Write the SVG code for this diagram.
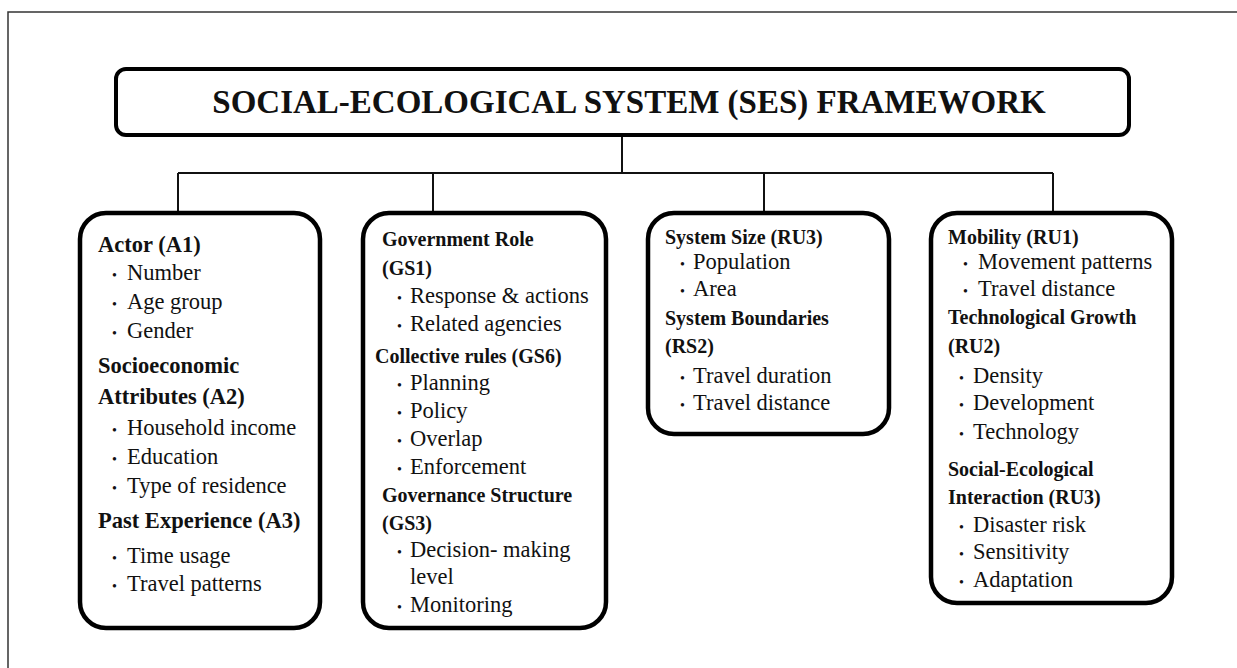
<svg xmlns="http://www.w3.org/2000/svg" width="1237" height="668" viewBox="0 0 1237 668">
  <style>
    .frame { fill: none; stroke: #333; stroke-width: 1.5; }
    .box { fill: #fff; stroke: #000; stroke-width: 4.5; }
    .title-box { fill: #fff; stroke: #000; stroke-width: 4; }
    .wire { fill: none; stroke: #111; stroke-width: 2; }
    text { font-family: "Liberation Serif", "Times New Roman", serif; fill: #111; }
    .title { font-size: 33px; font-weight: bold; }
    .h { font-size: 20px; font-weight: bold; }
    .h.lg { font-size: 22.5px; }
    .i { font-size: 22.5px; }
    .b { font-size: 14px; }
  </style>

  <rect width="1237" height="668" fill="#fff"/>
  <!-- page frame (open to the right and bottom) -->
  <rect class="frame" x="8" y="12" width="1260" height="700"/>

  <!-- tree connectors -->
  <g id="connectors">
    <path class="wire" d="M622 135 V173"/>
    <path class="wire" d="M178 173 H1053"/>
    <path class="wire" d="M178 173 V213"/>
    <path class="wire" d="M433 173 V213"/>
    <path class="wire" d="M764 173 V213"/>
    <path class="wire" d="M1053 173 V213"/>
  </g>

  <g id="title">
    <rect class="title-box" x="116" y="69" width="1013" height="66" rx="10"/>
    <text class="title" x="629" y="113" text-anchor="middle">SOCIAL-ECOLOGICAL SYSTEM (SES) FRAMEWORK</text>
  </g>

  <!-- Actors -->
  <g id="actors">
    <rect class="box" x="80" y="213" width="240" height="415" rx="26"/>
    <text class="h lg" x="98" y="252">Actor (A1)</text>
    <text class="i" y="280"><tspan class="b" x="112">•</tspan><tspan x="127">Number</tspan></text>
    <text class="i" y="309"><tspan class="b" x="112">•</tspan><tspan x="127">Age group</tspan></text>
    <text class="i" y="338"><tspan class="b" x="112">•</tspan><tspan x="127">Gender</tspan></text>
    <text class="h lg" x="98" y="373">Socioeconomic</text>
    <text class="h lg" x="98" y="404">Attributes (A2)</text>
    <text class="i" y="435"><tspan class="b" x="112">•</tspan><tspan x="127">Household income</tspan></text>
    <text class="i" y="464"><tspan class="b" x="112">•</tspan><tspan x="127">Education</tspan></text>
    <text class="i" y="493"><tspan class="b" x="112">•</tspan><tspan x="127">Type of residence</tspan></text>
    <text class="h lg" x="98" y="528">Past Experience (A3)</text>
    <text class="i" y="563"><tspan class="b" x="112">•</tspan><tspan x="127">Time usage</tspan></text>
    <text class="i" y="591"><tspan class="b" x="112">•</tspan><tspan x="127">Travel patterns</tspan></text>
  </g>

  <!-- Governance -->
  <g id="governance">
    <rect class="box" x="363" y="213" width="243" height="415" rx="26"/>
    <text class="h" x="382" y="246">Government Role</text>
    <text class="h" x="382" y="275">(GS1)</text>
    <text class="i" y="303"><tspan class="b" x="397">•</tspan><tspan x="410">Response &amp; actions</tspan></text>
    <text class="i" y="331"><tspan class="b" x="397">•</tspan><tspan x="410">Related agencies</tspan></text>
    <text class="h" x="375" y="363">Collective rules  (GS6)</text>
    <text class="i" y="390"><tspan class="b" x="397">•</tspan><tspan x="410">Planning</tspan></text>
    <text class="i" y="418"><tspan class="b" x="397">•</tspan><tspan x="410">Policy</tspan></text>
    <text class="i" y="446"><tspan class="b" x="397">•</tspan><tspan x="410">Overlap</tspan></text>
    <text class="i" y="474"><tspan class="b" x="397">•</tspan><tspan x="410">Enforcement</tspan></text>
    <text class="h" x="382" y="502">Governance Structure</text>
    <text class="h" x="382" y="530">(GS3)</text>
    <text class="i" y="557"><tspan class="b" x="397">•</tspan><tspan x="410">Decision- making</tspan></text>
    <text class="i" x="410" y="584">level</text>
    <text class="i" y="612"><tspan class="b" x="397">•</tspan><tspan x="410">Monitoring</tspan></text>
  </g>

  <!-- Resource system -->
  <g id="resource-system">
    <rect class="box" x="648" y="213" width="241" height="221" rx="26"/>
    <text class="h" x="665" y="244">System Size (RU3)</text>
    <text class="i" y="269"><tspan class="b" x="680">•</tspan><tspan x="693">Population</tspan></text>
    <text class="i" y="296"><tspan class="b" x="680">•</tspan><tspan x="693">Area</tspan></text>
    <text class="h" x="665" y="325">System Boundaries</text>
    <text class="h" x="665" y="353">(RS2)</text>
    <text class="i" y="383"><tspan class="b" x="680">•</tspan><tspan x="693">Travel duration</tspan></text>
    <text class="i" y="410"><tspan class="b" x="680">•</tspan><tspan x="693">Travel distance</tspan></text>
  </g>

  <!-- Resource units -->
  <g id="resource-units">
    <rect class="box" x="931" y="213" width="241" height="390" rx="26"/>
    <text class="h" x="948" y="244">Mobility (RU1)</text>
    <text class="i" y="269"><tspan class="b" x="963">•</tspan><tspan x="978">Movement patterns</tspan></text>
    <text class="i" y="296"><tspan class="b" x="963">•</tspan><tspan x="978">Travel distance</tspan></text>
    <text class="h" x="948" y="324">Technological Growth</text>
    <text class="h" x="948" y="353">(RU2)</text>
    <text class="i" y="383"><tspan class="b" x="959">•</tspan><tspan x="973">Density</tspan></text>
    <text class="i" y="410"><tspan class="b" x="959">•</tspan><tspan x="973">Development</tspan></text>
    <text class="i" y="439"><tspan class="b" x="959">•</tspan><tspan x="973">Technology</tspan></text>
    <text class="h" x="948" y="476">Social-Ecological</text>
    <text class="h" x="948" y="504">Interaction (RU3)</text>
    <text class="i" y="532"><tspan class="b" x="959">•</tspan><tspan x="973">Disaster risk</tspan></text>
    <text class="i" y="559"><tspan class="b" x="959">•</tspan><tspan x="973">Sensitivity</tspan></text>
    <text class="i" y="587"><tspan class="b" x="959">•</tspan><tspan x="973">Adaptation</tspan></text>
  </g>
</svg>
